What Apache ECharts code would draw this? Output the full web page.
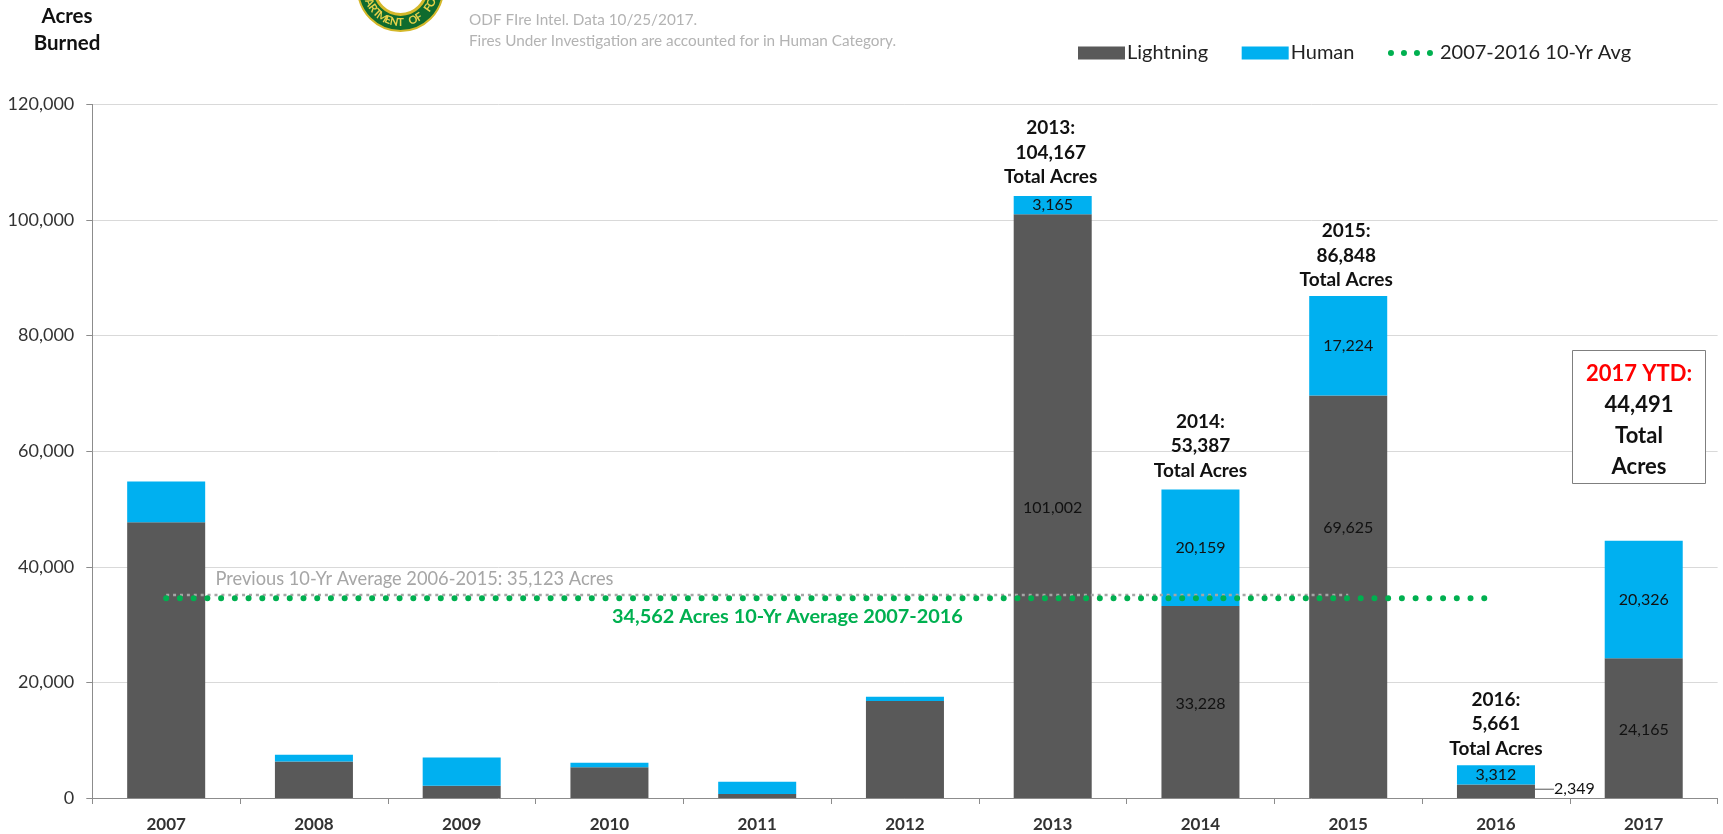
<!DOCTYPE html>
<html><head><meta charset="utf-8">
<style>html,body{margin:0;padding:0;background:#fff}#c{width:1723px;height:834px}</style>
<script src="https://cdn.jsdelivr.net/npm/echarts@6/dist/echarts.min.js"></script></head>
<body><div id="c"></div>
<script>
const years=['2007','2008','2009','2010','2011','2012','2013','2014','2015','2016','2017'];
const lightning=[47700,6300,2100,5300,700,16800,101002,33228,69625,2349,24165];
const human=[7070,1200,4900,800,2100,700,3165,20159,17224,3312,20326];
const labelledYears=['2013','2014','2015','2016','2017'];
const totals=[null,null,null,null,null,null,104167,53387,86848,5661,null];
const avg10=[34562,34562,34562,34562,34562,34562,34562,34562,34562,34562,null];
const prevAvg=[35123,35123,35123,35123,35123,35123,35123,35123,35123,null,null];
const sealLetters='PARTMENT OF FORE';
const FONT='Lato';
const fmt=v=>v.toLocaleString('en-US');
const dots='path://M0 0L0 0M47 12L47 12'+[3,16,29,42].map(c=>`M${c-3} 6a3 3 0 1 0 6 0a3 3 0 1 0 -6 0Z`).join('');
const sealCx=400.5,sealCy=-11.6;
const sealText=sealLetters.split('').map((ch,i)=>{
  const th=(i-(sealLetters.length-1)/2+0.5)*0.19, R=34;
  return {type:'text',x:sealCx+R*Math.sin(th),y:sealCy+R*Math.cos(th),rotation:th,z:5,
    style:{text:ch,font:'bold 11px Lato',fill:'#e8d24a',align:'center',verticalAlign:'middle'}};
});
const lightningShift={8:{dy:-69},9:{dx:17,dy:-2}};
const totalShift={6:{dx:-2,dy:1},7:{dy:1},8:{dx:-2,dy:4},9:{dy:3}};
const chart=echarts.init(document.getElementById('c'),null,{renderer:'canvas'});
chart.setOption({
 animation:false,
 textStyle:{fontFamily:FONT},
 grid:{left:92.3,right:5.4,top:104.4,bottom:36,containLabel:false},
 legend:{top:38,left:1073,itemWidth:47,itemHeight:13,itemGap:33.5,
  textStyle:{fontFamily:FONT,fontSize:20,color:'#222',padding:[0,0,0,-3]},
  data:[{name:'Lightning',icon:'rect'},{name:'Human',icon:'rect'},
   {name:'2007-2016 10-Yr Avg',icon:dots,itemStyle:{color:'#00b050',borderWidth:0},
    textStyle:{fontFamily:FONT,fontSize:20,color:'#222',padding:[0,0,0,0]}}]},
 xAxis:{type:'category',data:years,boundaryGap:true,
  axisLine:{lineStyle:{color:'#8c8c8c',width:1}},
  axisTick:{show:true,alignWithLabel:false,length:6,lineStyle:{color:'#8c8c8c'}},
  axisLabel:{fontFamily:FONT,fontSize:17,fontWeight:'bold',color:'#333',margin:18}},
 yAxis:{type:'value',min:0,max:120000,interval:20000,
  axisLine:{show:true,lineStyle:{color:'#8c8c8c'}},
  axisTick:{show:true,length:6,lineStyle:{color:'#8c8c8c'}},
  splitLine:{lineStyle:{color:'#d9d9d9',width:1}},
  axisLabel:{fontFamily:FONT,fontSize:18,color:'#333',margin:18,formatter:v=>fmt(v)}},
 series:[
  {name:'Lightning',type:'bar',stack:'a',barWidth:'52.8%',itemStyle:{color:'#595959'},
   data:lightning.map((v,i)=>{
     const d={value:v,label:{show:labelledYears.includes(years[i])}};
     if(years[i]==='2016'){
       d.label={show:true,position:'right',distance:2,fontSize:16,color:'#111'};
       d.labelLine={show:true,lineStyle:{color:'#555',width:1}};
     }
     return d;}),
   labelLayout:p=>lightningShift[p.dataIndex]||{dy:2},
   label:{position:'inside',fontFamily:FONT,fontSize:16,color:'#111',formatter:p=>fmt(p.value)}},
  {name:'Human',type:'bar',stack:'a',itemStyle:{color:'#00b0f0'},
   data:human.map((v,i)=>({value:v,label:{show:labelledYears.includes(years[i])}})),
   label:{position:'inside',fontFamily:FONT,fontSize:16,color:'#111',formatter:p=>fmt(p.value)}},
  {name:'Total',type:'line',data:totals,symbol:'circle',symbolSize:1,itemStyle:{opacity:0},lineStyle:{opacity:0},silent:true,
   labelLayout:p=>totalShift[p.dataIndex]||{},
   label:{show:true,position:'top',distance:7,fontFamily:FONT,fontSize:19,fontWeight:'bold',color:'#111',lineHeight:24.5,opacity:1,
    formatter:p=>p.value==null?'':years[p.dataIndex]+':\n'+fmt(p.value)+'\nTotal Acres'}},
  {name:'Previous 10-Yr Avg',type:'line',data:prevAvg,symbol:'none',z:3,
   lineStyle:{color:'#a6a6a6',width:2.5,type:[3,3.9]}},
  {name:'2007-2016 10-Yr Avg',type:'line',data:avg10,symbol:'none',z:4,
   lineStyle:{color:'#00b050',width:6,cap:'round',type:[0.01,13.72]},itemStyle:{color:'#00b050'}}
 ],
 graphic:[
  {type:'text',x:67,y:16,style:{text:'Acres',font:'bold 20.5px Lato',fill:'#111',align:'center',verticalAlign:'middle'}},
  {type:'text',x:67,y:43.5,style:{text:'Burned',font:'bold 20.5px Lato',fill:'#111',align:'center',verticalAlign:'middle'}},
  {type:'text',x:469,y:19.8,style:{text:'ODF FIre Intel. Data 10/25/2017.',font:'15.3px Lato',fill:'#b3b3b3',verticalAlign:'middle'}},
  {type:'text',x:469,y:41,style:{text:'Fires Under Investigation are accounted for in Human Category.',font:'15.3px Lato',fill:'#b3b3b3',verticalAlign:'middle'}},
  {type:'circle',shape:{cx:sealCx,cy:sealCy,r:42.6},style:{fill:'#0f6b2e',stroke:'#d4b82a',lineWidth:2}},
  {type:'circle',shape:{cx:sealCx,cy:sealCy,r:26},style:{fill:'#fff',stroke:'#d4b82a',lineWidth:3}},
  ...sealText,
  {type:'text',x:215.4,y:579,z:6,style:{text:'Previous 10-Yr Average 2006-2015: 35,123 Acres',font:'18.25px Lato',fill:'#a6a6a6',verticalAlign:'middle'}},
  {type:'text',x:612,y:616.5,z:6,style:{text:'34,562 Acres 10-Yr Average 2007-2016',font:'bold 19.9px Lato',fill:'#00b050',verticalAlign:'middle'}},
  {type:'rect',shape:{x:1572.5,y:350.5,width:133,height:133},z:6,style:{fill:'#fff',stroke:'#7f7f7f',lineWidth:1}},
  {type:'text',x:1639,y:358,z:7,style:{text:'{r|2017 YTD:}\n{k|44,491}\n{k|Total}\n{k|Acres}',align:'center',
    rich:{r:{font:'bold 22px Lato',fill:'#ff0000',lineHeight:31},k:{font:'bold 22px Lato',fill:'#111',lineHeight:31}}}}
 ]
});
</script></body></html>
